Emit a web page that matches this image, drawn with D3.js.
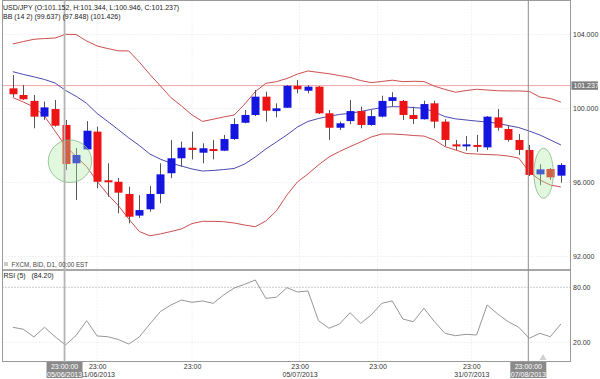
<!DOCTYPE html>
<html><head><meta charset="utf-8">
<script src="https://cdn.jsdelivr.net/npm/d3@7"></script>
<style>body{margin:0;background:#fff}svg{display:block;font-family:"Liberation Sans",Arial,sans-serif}</style>
</head><body><svg id="c" width="600" height="379"></svg>
<script>
// ---- data ----
const openP  = [101.09,100.73,100.41,99.56,99.97,99.11,97.04,97.79,98.75,96.12,96.04,95.38,94.21,94.55,95.38,96.50,97.31,97.88,97.61,97.81,97.72,98.35,99.23,99.65,100.64,99.86,100.04,101.23,100.96,101.18,99.74,98.96,99.32,99.86,99.11,99.56,100.41,100.41,99.65,99.42,100.28,99.29,98.06,97.97,98.03,97.90,99.52,98.89,98.30,97.76,96.44,96.73,96.37];
const highP  = [101.81,101.27,100.73,100.37,100.46,99.38,97.86,99.32,99.02,97.04,96.24,95.77,95.32,95.82,97.04,98.30,98.21,98.75,98.12,98.30,98.57,99.47,99.92,101.00,100.91,100.28,101.27,101.54,101.27,101.22,99.92,99.29,100.46,100.10,99.92,100.69,100.88,100.46,100.10,100.42,100.42,99.42,98.30,98.51,98.57,99.59,99.97,99.11,98.62,98.03,96.98,96.78,97.05];
const lowP   = [100.62,100.46,98.93,99.38,99.02,96.68,95.05,97.76,95.69,95.23,94.34,93.79,94.08,94.42,94.88,96.23,96.85,97.25,97.04,97.25,97.70,98.30,99.20,99.59,99.29,99.52,100.03,100.82,100.82,99.70,98.30,98.84,99.15,98.93,99.07,99.52,100.10,99.38,99.16,99.40,98.93,97.97,97.76,97.72,97.66,97.76,98.80,98.21,97.49,96.35,95.86,96.14,95.99];
const closeP = [100.77,100.50,99.56,100.06,99.07,97.00,97.49,98.80,96.04,96.10,95.45,94.15,94.51,95.38,96.44,97.31,97.88,97.76,97.85,97.72,98.35,99.16,99.65,100.64,99.88,100.01,101.23,101.04,101.18,99.74,98.96,99.20,99.86,99.11,99.59,100.41,100.61,99.65,99.43,100.24,99.29,98.30,97.97,98.06,97.94,99.56,98.96,98.30,97.76,96.41,96.71,96.28,96.95];
const bbUpper = [103.49,103.62,103.74,103.78,103.81,104.01,104.00,103.65,103.38,103.24,103.12,103.11,102.51,101.84,101.22,100.59,100.14,99.65,99.30,99.42,99.54,99.65,100.24,100.91,101.36,101.45,101.62,101.86,102.03,101.95,101.88,101.78,101.68,101.51,101.40,101.46,101.53,101.45,101.47,101.46,101.21,101.03,100.88,100.97,101.04,101.00,100.96,100.95,100.95,100.92,100.62,100.54,100.35];
const bbMid   = [101.99,101.84,101.71,101.57,101.38,100.98,100.66,100.28,99.73,99.30,98.86,98.41,98.00,97.54,97.26,97.05,96.89,96.73,96.62,96.65,96.70,96.76,97.00,97.38,97.81,98.19,98.57,99.00,99.30,99.46,99.58,99.68,99.74,99.84,99.95,100.05,100.10,100.09,100.05,100.01,99.81,99.56,99.44,99.38,99.32,99.27,99.20,99.08,98.97,98.78,98.57,98.30,98.03];
const bbLower = [100.59,100.35,100.08,99.59,98.78,97.97,97.41,96.86,96.06,95.36,94.76,94.03,93.35,93.12,93.22,93.35,93.49,93.78,93.90,93.90,93.88,93.81,93.70,93.61,93.92,94.46,95.32,96.03,96.46,96.95,97.38,97.68,97.94,98.19,98.46,98.62,98.62,98.59,98.54,98.51,98.30,97.94,97.76,97.57,97.54,97.51,97.49,97.43,97.32,96.57,96.14,95.86,95.76];
const rsiVals = [36.4,34.2,25.8,36.4,26.1,17.1,27.4,43.6,26.9,26.1,23.1,18.1,25.8,40.0,53.6,60.7,66.1,63.6,65.1,62.5,71.6,79.2,83.3,88.0,68.0,69.1,79.6,74.9,76.0,43.6,35.3,40.0,52.3,40.7,49.8,62.5,65.1,45.4,42.5,57.1,42.5,29.8,27.2,28.7,28.0,60.7,50.9,42.5,36.4,24.4,29.8,26.1,40.0];
const priceTicks = [92, 96, 100, 104];
const rsiTicks = [20, 80];
const lastPrice = 101.237;
const dateTickIdx = [8, 17, 27.2, 34.6, 43.5];
const dateTickTime = ["23:00","23:00","23:00","23:00","23:00"];
const dateTickDate = ["11/06/2013","","05/07/2013","","31/07/2013"];
const cursorIdx = [5, 49];
const cursorTime = ["23:00:00","23:00:00"];
const cursorDate = ["05/06/2013","07/08/2013"];
// highlighted areas: centre (index, price), radii (index units, price units)
const ringCx = [5.42, 50.36];
const ringCy = [97.15, 96.50];
const ringRx = [2.06, 0.92];
const ringRy = [1.15, 1.35];
const legend1 = "USD/JPY (O:101.152, H:101.344, L:100.946, C:101.237)";
const legend2 = "BB (14 2) (99.637) (97.848) (101.426)";
const sourceTxt = "FXCM, BID, D1, 00:00 EST";
const rsiTitle = "RSI (5)   (84.20)";

// ---- layout ----
const L = 2.5, R = 570.5, TOP = 0.5, SEP = 270, BOT = 361.5;
const n = openP.length;
const svg = d3.select("#c");
const x = d3.scaleLinear().domain([-1, n]).range([2.3, 2.3 + 10.54 * (n + 1)]);
const y = d3.scaleLinear().domain([92, 104]).range([256.5, 34.5]);
const yr = d3.scaleLinear().domain([20, 80]).range([342.3, 287.3]);
const idx = d3.range(n);
const FS = 7;

svg.append("defs").append("clipPath").attr("id","main")
  .append("rect").attr("x",L).attr("y",TOP).attr("width",R-L).attr("height",SEP-TOP);

// grid
const grid = svg.append("g").attr("stroke","#e4e4e4").attr("stroke-dasharray","1,2");
grid.selectAll(".hg").data(priceTicks).join("line")
  .attr("x1",L).attr("x2",R).attr("y1",d=>y(d)).attr("y2",d=>y(d));
grid.selectAll(".rg").data([20]).join("line")
  .attr("x1",L).attr("x2",R).attr("y1",d=>yr(d)).attr("y2",d=>yr(d));
grid.selectAll(".vg").data(dateTickIdx).join("line")
  .attr("x1",d=>x(d)).attr("x2",d=>x(d)).attr("y1",TOP).attr("y2",BOT);

// RSI 80 level
svg.append("line").attr("x1",L).attr("x2",R).attr("y1",yr(80)).attr("y2",yr(80))
  .attr("stroke","#999").attr("stroke-dasharray","1,2");

const main = svg.append("g").attr("clip-path","url(#main)");
// last price line
main.append("line").attr("x1",L).attr("x2",R).attr("y1",y(lastPrice)).attr("y2",y(lastPrice))
  .attr("stroke","#f2a6a6").attr("stroke-width",1);

// Bollinger bands
const line = arr => d3.line().x((d,i)=>x(i)).y(d=>y(d))(arr);
main.append("path").attr("d",line(bbUpper)).attr("fill","none").attr("stroke","#c83a3a").attr("stroke-width",0.9);
main.append("path").attr("d",line(bbLower)).attr("fill","none").attr("stroke","#c83a3a").attr("stroke-width",0.9);
main.append("path").attr("d",line(bbMid)).attr("fill","none").attr("stroke","#3535a8").attr("stroke-width",0.9);

// candles
const bw = 8;
main.selectAll(".wick").data(idx).join("line")
  .attr("x1",i=>Math.round(x(i))+0.5).attr("x2",i=>Math.round(x(i))+0.5)
  .attr("y1",i=>y(highP[i])).attr("y2",i=>y(lowP[i]))
  .attr("stroke","#555").attr("stroke-width",1);
main.selectAll(".body").data(idx).join("rect")
  .attr("x",i=>Math.round(x(i))+0.5-bw/2)
  .attr("width",bw)
  .attr("y",i=>y(Math.max(openP[i],closeP[i])))
  .attr("height",i=>Math.max(2, Math.abs(y(openP[i])-y(closeP[i]))))
  .attr("fill",i=>closeP[i]>=openP[i] ? "#1515e0" : "#ec1414");

// highlight rings
main.selectAll(".ring").data([0,1]).join("ellipse")
  .attr("cx",k=>x(ringCx[k])).attr("cy",k=>y(ringCy[k]))
  .attr("rx",k=>x(ringCx[k]+ringRx[k])-x(ringCx[k]))
  .attr("ry",k=>y(ringCy[k]-ringRy[k])-y(ringCy[k]))
  .attr("fill","rgba(170,235,160,0.35)").attr("stroke","#86b886").attr("stroke-width",0.8);

// RSI line
svg.append("path").attr("d",d3.line().x((d,i)=>x(i)).y(d=>yr(d))(rsiVals))
  .attr("fill","none").attr("stroke","#8a8a8a").attr("stroke-width",0.9);

// frame
svg.append("rect").attr("x",L).attr("y",TOP).attr("width",R-L).attr("height",BOT-TOP)
  .attr("fill","none").attr("stroke","#9a9a9a").attr("stroke-width",1);
svg.append("line").attr("x1",L).attr("x2",R).attr("y1",SEP).attr("y2",SEP)
  .attr("stroke","#8a8a8a").attr("stroke-width",1.6);

// cursors
svg.append("line").attr("x1",x(cursorIdx[0])-1).attr("x2",x(cursorIdx[0])-1).attr("y1",TOP).attr("y2",BOT)
  .attr("stroke","#b4b4b4").attr("stroke-width",1.8);
svg.append("line").attr("x1",x(cursorIdx[1])-1).attr("x2",x(cursorIdx[1])-1).attr("y1",TOP).attr("y2",BOT)
  .attr("stroke","#8c8c8c").attr("stroke-width",1);

// texts in panels
const txt = svg.append("g").attr("font-size",FS).attr("fill","#222");
txt.append("text").attr("x",3).attr("y",10).text(legend1);
txt.append("text").attr("x",3).attr("y",18.5).text(legend2);
txt.append("rect").attr("x",4).attr("y",262).attr("width",4).attr("height",4).attr("fill","#ccc");
txt.append("text").attr("x",11.5).attr("y",266.5).attr("font-size",6.3).attr("fill","#444").text(sourceTxt);
txt.append("text").attr("x",3.5).attr("y",277.5).text(rsiTitle).attr("xml:space","preserve");

// right axes
const ax = svg.append("g").attr("transform",`translate(${R},0)`)
  .call(d3.axisRight(y).tickValues(priceTicks).tickSize(0).tickPadding(2.5).tickFormat(d3.format(".3f")));
const axR = svg.append("g").attr("transform",`translate(${R},0)`)
  .call(d3.axisRight(yr).tickValues(rsiTicks).tickSize(0).tickPadding(2.5).tickFormat(d3.format(".2f")));
[ax, axR].forEach(a => {
  a.select(".domain").remove();
  a.selectAll("text").attr("font-size",FS).attr("fill","#333").attr("font-family","Liberation Sans, Arial, sans-serif");
});
// last price tag
const lp = svg.append("g").attr("transform",`translate(${R+1},${y(lastPrice)})`);
lp.append("rect").attr("x",0).attr("y",-4.2).attr("width",26.5).attr("height",8.4).attr("fill","#7d7d7d");
lp.append("text").attr("x",2).attr("y",2.5).attr("font-size",FS).attr("fill","#fff").text(d3.format(".3f")(lastPrice));

// bottom axis
const bx = svg.append("g").attr("transform",`translate(0,${BOT})`)
  .call(d3.axisBottom(x).tickValues(dateTickIdx).tickSize(0).tickPadding(7).tickFormat((d,i)=>dateTickTime[i]));
bx.select(".domain").remove();
bx.selectAll("text").attr("font-size",FS).attr("fill","#333").attr("font-family","Liberation Sans, Arial, sans-serif")
  .attr("y",7.5).attr("dy",0);
bx.selectAll(".tick").append("text").attr("y",15.5).attr("text-anchor","middle")
  .attr("font-size",FS).attr("fill","#333").text((d,i)=>dateTickDate[i]);

// cursor tags
cursorIdx.forEach((c,k) => {
  const g = svg.append("g").attr("transform",`translate(${x(c)-1},${BOT})`);
  g.append("rect").attr("x",-18).attr("y",0.5).attr("width",36).attr("height",16).attr("fill","#8a8a8a");
  g.append("text").attr("y",7.5).attr("text-anchor","middle").attr("font-size",FS).attr("fill","#fff").text(cursorTime[k]);
  g.append("text").attr("y",15).attr("text-anchor","middle").attr("font-size",FS).attr("fill","#fff").text(cursorDate[k]);
});
// small marker triangle
svg.append("path").attr("d",d3.symbol(d3.symbolTriangle, 22)())
  .attr("transform",`translate(${x(50.3)},${BOT-3.5})`).attr("fill","#d0d0d0");
</script></body></html>
